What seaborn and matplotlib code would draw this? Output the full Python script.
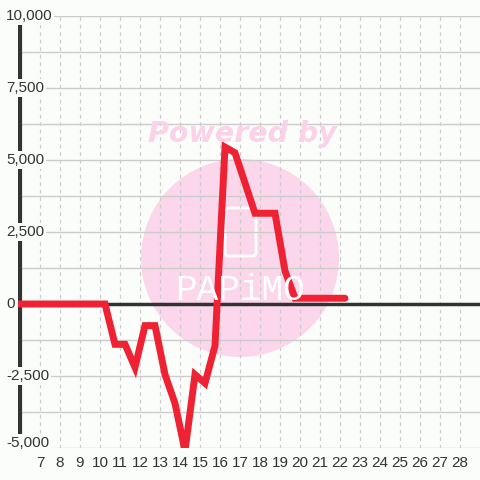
import matplotlib
matplotlib.use("Agg")
import matplotlib.pyplot as plt
import matplotlib.transforms as mtransforms
from matplotlib.patches import Circle, FancyBboxPatch
import pandas as pd
import seaborn as sns

# values
x_vals = [5.75, 6.25, 6.75, 7.25, 7.75, 8.25, 8.75, 9.25, 9.75, 10.25,
          10.75, 11.25, 11.75, 12.25, 12.75, 13.25, 13.75, 14.25, 14.75, 15.25,
          15.75, 16.25, 16.75, 17.25, 17.75, 18.25, 18.75, 19.25, 19.75, 20.25,
          20.75, 21.25, 21.75, 22.25]
y_vals = [0, 0, 0, 0, 0, 0, 0, 0, 0, 0,
          -1400, -1400, -2200, -750, -750, -2450, -3450, -5100, -2450, -2750,
          -1450, 5450, 5250, 4200, 3150, 3150, 3150, 1150, 200, 200,
          200, 200, 200, 200]
x_ticks = list(range(7, 29))
y_ticks = [10000, 7500, 5000, 2500, 0, -2500, -5000]
y_tick_labels = ["10,000", "7,500", "5,000", "2,500", "0", "-2,500", "-5,000"]

BG = "#fbfdfb"
TEXT = "#333333"
GRID = "#cccccc"
LINE = "#ee2233"

sns.set_style("whitegrid")
plt.rcParams["font.family"] = ["Liberation Sans", "DejaVu Sans"]

df = pd.DataFrame({"x": x_vals, "y": y_vals})

fig = plt.figure(figsize=(4.8, 4.8), dpi=100, facecolor=BG)
ax = fig.add_axes([18 / 480, 32 / 480, 462 / 480, 432 / 480])
ax.set_facecolor(BG)

ax.set_xlim(5.9, 29)
ax.set_ylim(-5000, 10000)

# grid: solid horizontals every 1250, dashed verticals at each day
ax.set_xticks(x_ticks)
ax.grid(False)
for v in range(-5000, 10001, 1250):
    ax.axhline(v, color=GRID, lw=1, zorder=0.5)
for v in x_ticks:
    ax.axvline(v, color=GRID, lw=0.9, ls=(0, (3, 3)), zorder=0.5)

# watermark
ax.add_patch(Circle((240 / 480, 1 - 258 / 480), 99 / 480, transform=fig.transFigure,
                    facecolor="#fcd6eb", edgecolor="none", zorder=0.2, clip_on=False))
ax.add_patch(FancyBboxPatch((225 / 480, 1 - 256 / 480), 31 / 480, 48 / 480,
                            boxstyle="round,pad=0,rounding_size=0.008",
                            transform=fig.transFigure, facecolor="none",
                            edgecolor="white", lw=2, zorder=0.3))
fig.text(242 / 480, 1 - 134 / 480, "Powered by", ha="center", va="center",
         fontsize=20.5, fontweight="bold", style="italic", color="#fcd2e8",
         family="DejaVu Sans", zorder=0.3)
fig.text(240 / 480, 1 - 290 / 480, "PAPiMO", ha="center", va="center",
         fontsize=26, color="white", family="Liberation Mono", zorder=0.3)

# zero line and left axis
ax.axhline(0, color=TEXT, lw=2.5, zorder=2)
ax.axvline(6.0, color=TEXT, lw=3, zorder=2)

sns.lineplot(data=df, x="x", y="y", color=LINE, linewidth=5, ax=ax, zorder=3,
             solid_joinstyle="miter")

for s in ax.spines.values():
    s.set_visible(False)

ax.set_xlabel("")
ax.set_ylabel("")
ax.tick_params(axis="x", length=0, pad=6, labelsize=11, labelcolor=TEXT)
ax.set_xticklabels([str(t) for t in x_ticks])
ax.tick_params(axis="y", length=0, labelleft=False)

# y labels sit on the axis with a background box; the bottom one is nudged up
trans = mtransforms.blended_transform_factory(fig.transFigure, ax.transData)
for v, lab in zip(y_ticks, y_tick_labels):
    off = mtransforms.offset_copy(trans, fig=fig, y=5 if v == y_ticks[-1] else 0, units="dots")
    ax.text(6 / 480, v, lab, transform=off, ha="left", va="center",
            fontsize=11, color=TEXT, zorder=5,
            bbox=dict(facecolor=BG, edgecolor="none", pad=1.2))

fig.savefig("out.png", dpi=100, facecolor=BG)
